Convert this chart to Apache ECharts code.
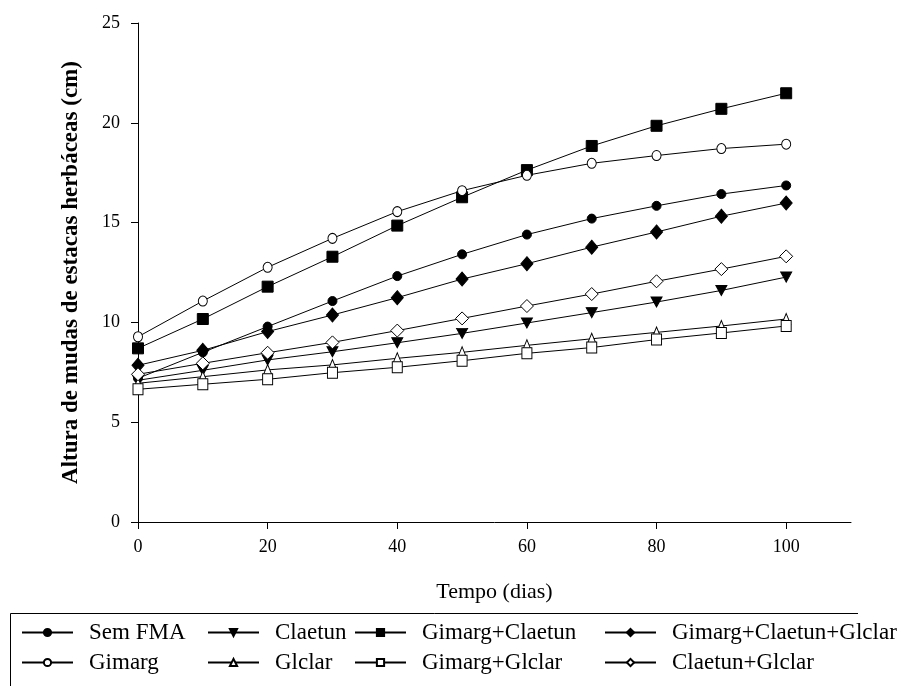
<!DOCTYPE html>
<html>
<head>
<meta charset="utf-8">
<script src="https://cdn.jsdelivr.net/npm/echarts@6/dist/echarts.min.js"></script>
<style>html,body{margin:0;padding:0;background:#fff;}#c{width:922px;height:686px;}</style>
</head>
<body>
<div id="c"></div>
<script>
const days = [0, 10, 20, 30, 40, 50, 60, 70, 80, 90, 100];
const xTicks = [0, 20, 40, 60, 80, 100];

const semFMA      = [7.2, 8.5, 9.79, 11.07, 12.32, 13.41, 14.4, 15.2, 15.84, 16.43, 16.86];
const claetun     = [7.1, 7.6, 8.12, 8.53, 8.98, 9.45, 9.97, 10.49, 11.02, 11.6, 12.27];
const gimargClaetun = [8.7, 10.17, 11.79, 13.29, 14.85, 16.27, 17.63, 18.84, 19.85, 20.7, 21.48];
const gimargClaetunGlclar = [7.85, 8.6, 9.54, 10.37, 11.24, 12.17, 12.94, 13.77, 14.53, 15.32, 15.98];
const gimarg      = [9.28, 11.07, 12.76, 14.21, 15.55, 16.6, 17.37, 17.97, 18.36, 18.71, 18.93];
const glclar      = [6.95, 7.28, 7.62, 7.87, 8.2, 8.5, 8.85, 9.18, 9.5, 9.82, 10.17];
const gimargGlclar = [6.65, 6.9, 7.15, 7.48, 7.75, 8.08, 8.45, 8.74, 9.14, 9.47, 9.82];
const claetunGlclar = [7.4, 7.95, 8.48, 9.0, 9.59, 10.2, 10.82, 11.42, 12.06, 12.67, 13.31];

const seriesDefs = [
  {name: 'Sem FMA', data: semFMA, symbol: 'circle', size: 9, fill: '#000', rot: 0, lx: 21, ly: 621},
  {name: 'Claetun', data: claetun, symbol: 'triangle', size: [11, 10], fill: '#000', rot: 180, lx: 207, ly: 621},
  {name: 'Gimarg+Claetun', data: gimargClaetun, symbol: 'rect', size: 11, fill: '#000', rot: 0, lx: 354, ly: 621},
  {name: 'Gimarg+Claetun+Glclar', data: gimargClaetunGlclar, symbol: 'diamond', size: [12, 14], fill: '#000', rot: 0, lx: 604, ly: 621},
  {name: 'Gimarg', data: gimarg, symbol: 'circle', size: [9, 10], fill: '#fff', rot: 0, lx: 21, ly: 651},
  {name: 'Glclar', data: glclar, symbol: 'triangle', size: [9, 11], fill: '#fff', rot: 0, lx: 207, ly: 651},
  {name: 'Gimarg+Glclar', data: gimargGlclar, symbol: 'rect', size: [10, 11], fill: '#fff', rot: 0, lx: 354, ly: 651},
  {name: 'Claetun+Glclar', data: claetunGlclar, symbol: 'diamond', size: [13, 13], fill: '#fff', rot: 0, lx: 604, ly: 651}
];

const font = 'Liberation Serif, Times New Roman, serif';

const series = seriesDefs.map(d => ({
  name: d.name,
  type: 'line',
  data: days.map((x, i) => [x, d.data[i]]),
  symbol: d.symbol,
  symbolSize: d.size,
  symbolRotate: d.rot,
  showAllSymbol: true,
  lineStyle: {color: '#000', width: 1},
  itemStyle: {color: d.fill, borderColor: '#000', borderWidth: 1},
  emphasis: {disabled: true},
  animation: false
}));

const legends = seriesDefs.map(d => ({
  data: [d.name],
  left: d.lx,
  top: d.ly,
  orient: 'horizontal',
  itemWidth: 51,
  itemHeight: 9,
  itemGap: 0,
  padding: 0,
  selectedMode: false,
  textStyle: {fontFamily: font, fontSize: 23, color: '#000', padding: [0, 0, 0, 11]}
}));

const chart = echarts.init(document.getElementById('c'), null, {renderer: 'canvas'});
chart.setOption({
  backgroundColor: '#fff',
  animation: false,
  grid: {left: 138, right: 71, top: 23, bottom: 164, containLabel: false},
  xAxis: {
    type: 'value', min: 0, max: 110, interval: 20,
    name: 'Tempo (dias)', nameLocation: 'middle', nameGap: 59,
    nameTextStyle: {fontFamily: font, fontSize: 22, color: '#000'},
    axisLine: {show: true, lineStyle: {color: '#000', width: 1}},
    axisTick: {show: true, inside: false, length: 7, lineStyle: {color: '#000'}, customValues: xTicks},
    axisLabel: {fontFamily: font, fontSize: 18, color: '#000', margin: 16, customValues: xTicks},
    splitLine: {show: false}
  },
  yAxis: {
    type: 'value', min: 0, max: 25, interval: 5,
    name: 'Altura de mudas de estacas herbáceas (cm)', nameLocation: 'middle', nameGap: 55,
    nameTextStyle: {fontFamily: font, fontSize: 23, fontWeight: 'bold', color: '#000'},
    axisLine: {show: true, lineStyle: {color: '#000', width: 1}},
    axisTick: {show: true, inside: false, length: 7, lineStyle: {color: '#000'}},
    axisLabel: {fontFamily: font, fontSize: 18, color: '#000', margin: 18},
    splitLine: {show: false}
  },
  legend: legends,
  graphic: [{
    type: 'polyline', shape: {points: [[10.5, 700], [10.5, 613.5], [858, 613.5]]},
    style: {fill: 'none', stroke: '#000', lineWidth: 1}, silent: true, z: -1
  }],
  series: series
});
</script>
</body>
</html>
